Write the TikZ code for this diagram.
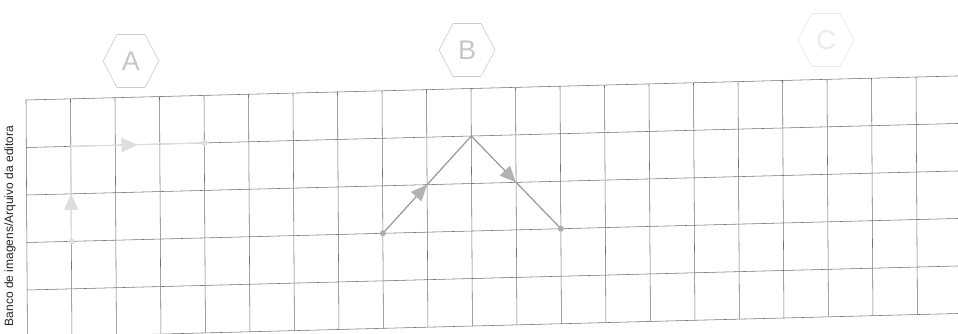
\documentclass[tikz,border=0pt]{standalone}
\usepackage{fontspec}
\setmainfont{Liberation Sans}
\usetikzlibrary{arrows.meta,decorations.markings,calc}
\tikzset{
  gridline/.style={draw=black!55, line width=0.55pt},
  hexlabel/.style={font=\fontsize{27}{27}\selectfont, text=black!22, inner sep=0pt},
  hexline/.style={line width=0.6pt},
  pathA/.style={draw=black!13, line width=1.2pt},
  pathB/.style={draw=black!38, line width=1.3pt},
  dotA/.style={circle, fill=black!13, inner sep=0pt, minimum size=6pt},
  dotB/.style={circle, fill=black!32, inner sep=0pt, minimum size=6pt},
  midarrowA/.style={postaction={decorate}, decoration={markings, mark=at position 0.5 with {\arrow{Triangle[length=16pt,width=14pt,color=black!13]}}}},
  midarrowB/.style={postaction={decorate}, decoration={markings, mark=at position 0.5 with {\arrow{Triangle[length=16pt,width=14pt,color=black!30]}}}},
}
\begin{document}
\begin{tikzpicture}[x=1pt,y=-1pt]
\useasboundingbox (0,0) rectangle (958,334);
\fill[white] (0,0) rectangle (958,334);
\begin{scope}
\clip (0,0) rectangle (958,334);
% grid
\foreach \i in {0,...,20}{
  \draw[gridline] ({26+44.5*\i},{100-1.148*\i}) -- ({27.425+44.5*\i},{337.5-1.148*\i});
}
\foreach \j in {0,...,5}{
  \draw[gridline] ({26+0.285*\j},{100+47.5*\j}) -- ({958+0.285*\j},{100+47.5*\j-24.04});
}
\end{scope}
% hexagon labels
\node[hexlabel] (A) at (131,61) {A};
\node[hexlabel] (B) at (467,50) {B};
\node[hexlabel, text=black!8] (C) at (826,40) {C};
\foreach \h/\c in {A/20,B/20,C/9}{
  \draw[hexline, draw=black!\c] ($(\h)+(-28,0)$) -- ($(\h)+(-14,-26.5)$) -- ($(\h)+(14,-26.5)$) -- ($(\h)+(28,0)$) -- ($(\h)+(14,26.5)$) -- ($(\h)+(-14,26.5)$) -- cycle;
}
% path A
\coordinate (a1) at (71.4,241.4);
\coordinate (a2) at (70.8,146.4);
\coordinate (a3) at (204.3,142.9);
\draw[pathA, midarrowA] (a1) -- (a2);
\draw[pathA, midarrowA] (a2) -- (a3);
\node[dotA] (da1) at (a1) {};
\node[dotA] (da3) at (a3) {};
% path B
\coordinate (b1) at (382.9,233.3);
\coordinate (b2) at (471.3,136.0);
\coordinate (b3) at (560.9,228.7);
\draw[pathB, midarrowB] (b1) -- (b2);
\draw[pathB, midarrowB] (b2) -- (b3);
\node[dotB] (db1) at (b1) {};
\node[dotB] (db3) at (b3) {};
% credit
\node[rotate=90, font=\fontsize{12}{12}\selectfont, text=black!85, inner sep=0pt] (credit) at (10,226) {Banco de imagens/Arquivo da editora};
\end{tikzpicture}
\end{document}
